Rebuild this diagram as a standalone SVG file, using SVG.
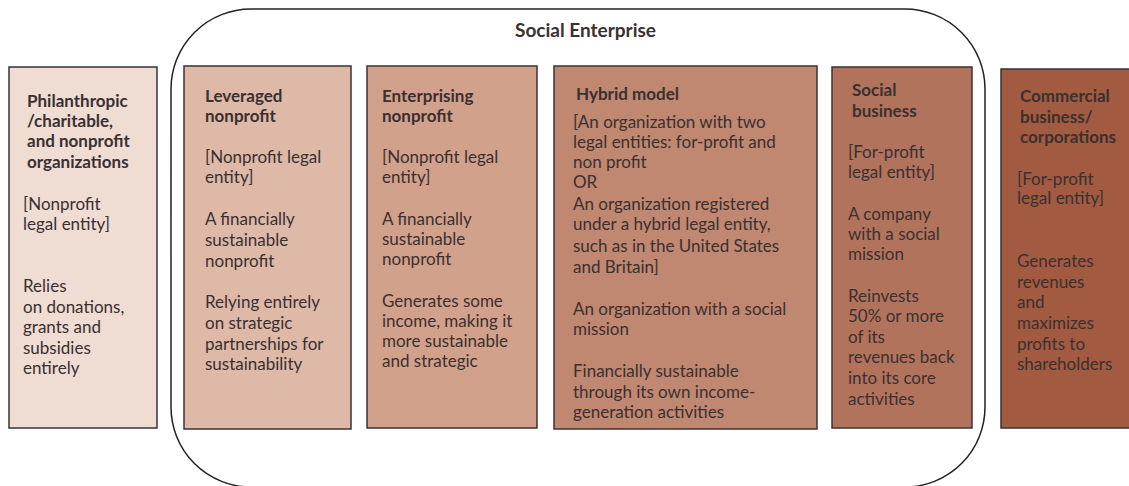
<svg xmlns="http://www.w3.org/2000/svg" width="1129" height="486" viewBox="0 0 1129 486">
<style>
  .box{stroke:#3a3333;stroke-width:1.5}
  text{font-family:Lato,"Open Sans","Liberation Sans",sans-serif;font-size:17px;fill:#3a3030}
  .b{font-weight:bold}
  .title{font-size:19px;font-weight:bold}
</style>
<rect width="1129" height="486" fill="#ffffff"/>
<g id="social-enterprise">
  <rect x="171" y="9" width="814" height="478" rx="80" ry="80" fill="none" stroke="#222" stroke-width="1.5"/>
  <text class="title" x="515" y="37">Social Enterprise</text>
</g>
<g id="philanthropic">
  <rect class="box" x="9" y="67" width="148" height="361" fill="#efdcd3"/>
  <text class="b" x="27" y="107">Philanthropic</text>
  <text class="b" x="27" y="127">/charitable,</text>
  <text class="b" x="27" y="147">and nonprofit</text>
  <text class="b" x="27" y="168">organizations</text>
  <text x="23" y="210">[Nonprofit</text>
  <text x="23" y="230">legal entity]</text>
  <text x="23" y="292">Relies</text>
  <text x="23" y="313">on donations,</text>
  <text x="23" y="333">grants and</text>
  <text x="23" y="354">subsidies</text>
  <text x="23" y="374">entirely</text>
</g>
<g id="leveraged">
  <rect class="box" x="184" y="66" width="167" height="363" fill="#deb9a8"/>
  <text class="b" x="205" y="102">Leveraged</text>
  <text class="b" x="205" y="122">nonprofit</text>
  <text x="205" y="163">[Nonprofit legal</text>
  <text x="205" y="183">entity]</text>
  <text x="205" y="225">A financially</text>
  <text x="205" y="246">sustainable</text>
  <text x="205" y="267">nonprofit</text>
  <text x="205" y="308">Relying entirely</text>
  <text x="205" y="329">on strategic</text>
  <text x="205" y="350">partnerships for</text>
  <text x="205" y="370">sustainability</text>
</g>
<g id="enterprising">
  <rect class="box" x="367" y="66" width="170" height="362" fill="#d2a18b"/>
  <text class="b" x="382" y="102">Enterprising</text>
  <text class="b" x="382" y="122">nonprofit</text>
  <text x="382" y="163">[Nonprofit legal</text>
  <text x="382" y="183">entity]</text>
  <text x="382" y="225">A financially</text>
  <text x="382" y="245">sustainable</text>
  <text x="382" y="265">nonprofit</text>
  <text x="382" y="307">Generates some</text>
  <text x="382" y="327">income, making it</text>
  <text x="382" y="347">more sustainable</text>
  <text x="382" y="367">and strategic</text>
</g>
<g id="hybrid">
  <rect class="box" x="554" y="66" width="263" height="363" fill="#c08771"/>
  <text class="b" x="576" y="100">Hybrid model</text>
  <text x="573" y="128">[An organization with two</text>
  <text x="573" y="148">legal entities: for-profit and</text>
  <text x="573" y="168">non profit</text>
  <text x="573" y="188">OR</text>
  <text x="573" y="210">An organization registered</text>
  <text x="573" y="230">under a hybrid legal entity,</text>
  <text x="573" y="252">such as in the United States</text>
  <text x="573" y="273">and Britain]</text>
  <text x="573" y="315">An organization with a social</text>
  <text x="573" y="335">mission</text>
  <text x="573" y="377">Financially sustainable</text>
  <text x="573" y="398">through its own income-</text>
  <text x="573" y="418">generation activities</text>
</g>
<g id="social-business">
  <rect class="box" x="832" y="67" width="140" height="361" fill="#b2735c"/>
  <text class="b" x="852" y="96">Social</text>
  <text class="b" x="852" y="117">business</text>
  <text x="848" y="158">[For-profit</text>
  <text x="848" y="178">legal entity]</text>
  <text x="848" y="220">A company</text>
  <text x="848" y="240">with a social</text>
  <text x="848" y="260">mission</text>
  <text x="848" y="302">Reinvests</text>
  <text x="848" y="322">50% or more</text>
  <text x="848" y="343">of its</text>
  <text x="848" y="363">revenues back</text>
  <text x="848" y="384">into its core</text>
  <text x="848" y="405">activities</text>
</g>
<g id="commercial">
  <rect class="box" x="1001" y="69" width="140" height="359" fill="#a25a41"/>
  <text class="b" x="1020" y="102">Commercial</text>
  <text class="b" x="1020" y="123">business/</text>
  <text class="b" x="1020" y="143">corporations</text>
  <text x="1017" y="185">[For-profit</text>
  <text x="1017" y="204">legal entity]</text>
  <text x="1017" y="267">Generates</text>
  <text x="1017" y="288">revenues</text>
  <text x="1017" y="308">and</text>
  <text x="1017" y="329">maximizes</text>
  <text x="1017" y="350">profits to</text>
  <text x="1017" y="370">shareholders</text>
</g>
<g id="connectors"></g>
</svg>
